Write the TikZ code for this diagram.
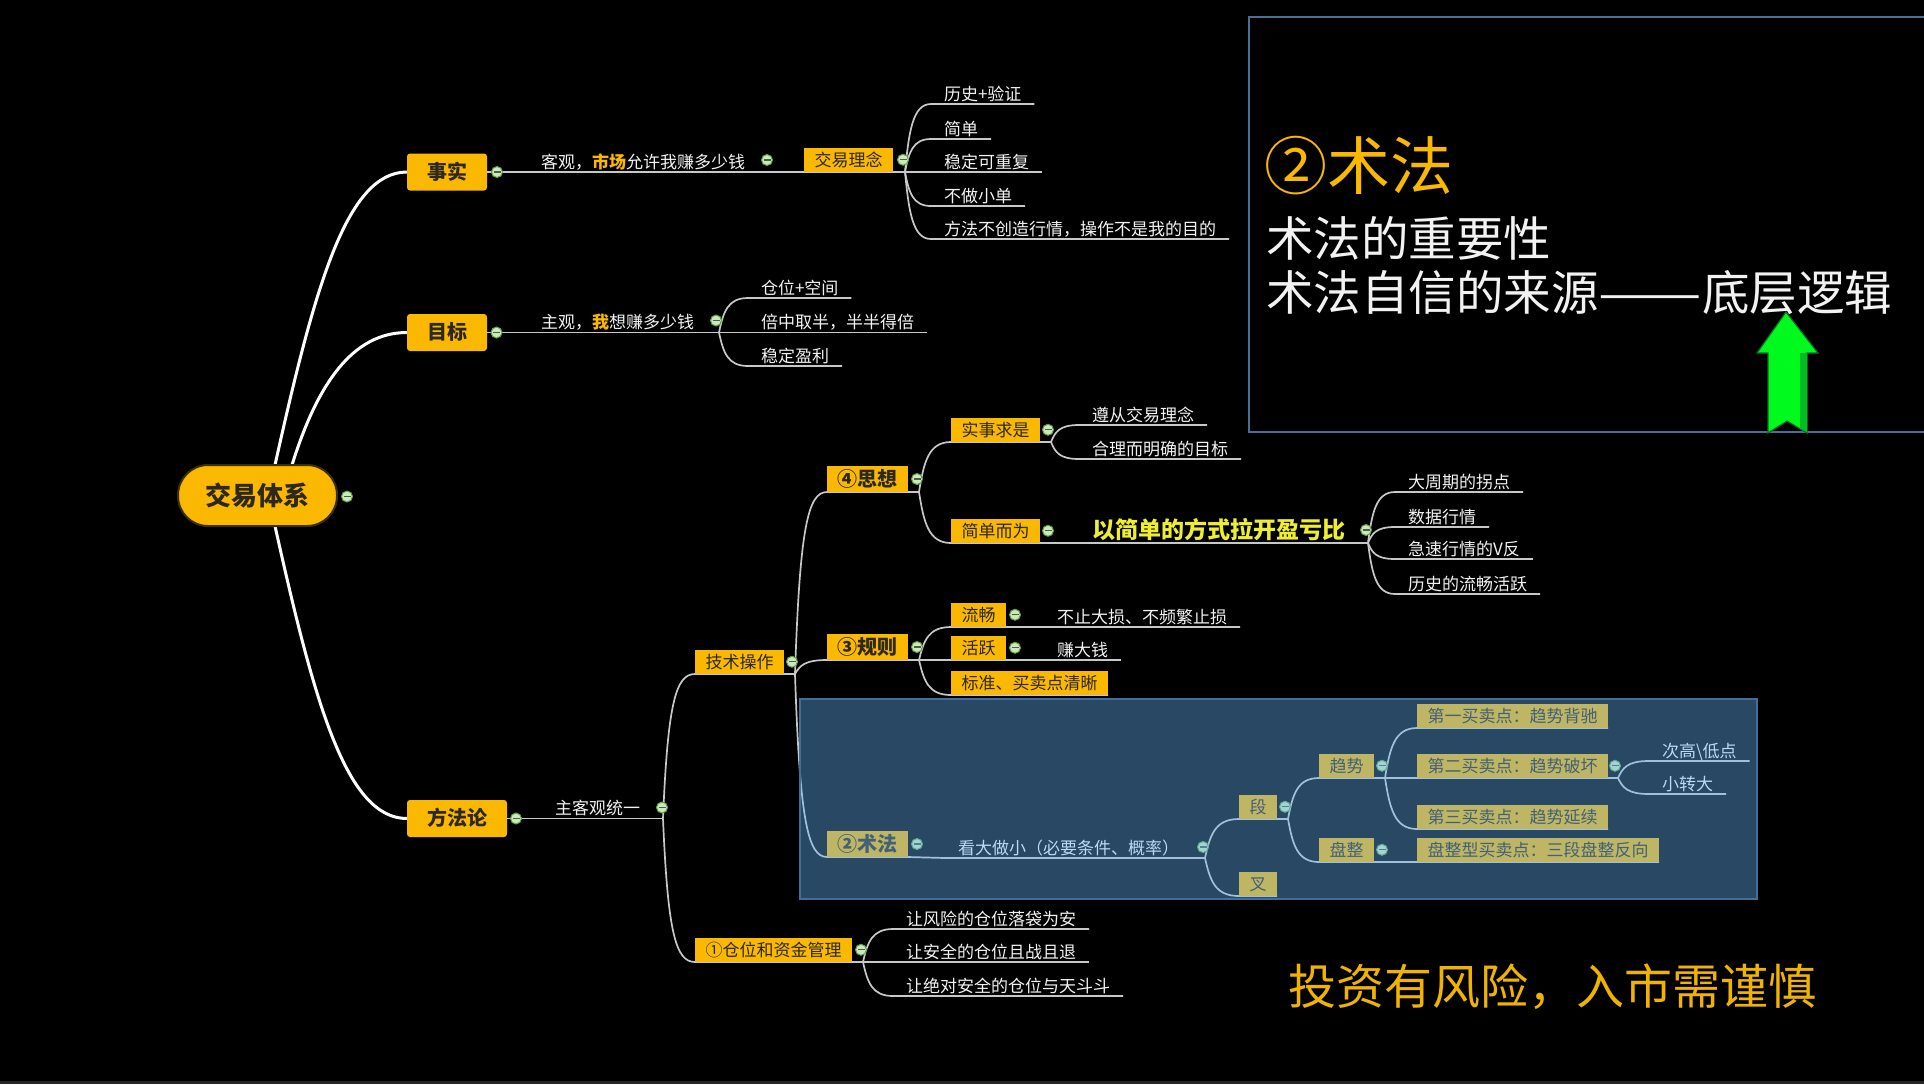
\documentclass[tikz,border=0pt]{standalone}
\usepackage{fontspec}
\usepackage{graphicx}
\setmainfont{Noto Sans CJK SC}
\usetikzlibrary{calc}
\definecolor{gold}{RGB}{250,184,0}
\definecolor{boxtxt}{RGB}{45,40,30}
\definecolor{txtw}{RGB}{242,242,242}
\definecolor{lineg}{RGB}{200,200,200}
\definecolor{yel}{RGB}{238,238,48}
\definecolor{collf}{RGB}{205,232,185}
\definecolor{colld}{RGB}{95,160,70}
\definecolor{collbar}{RGB}{80,90,80}
\definecolor{ovl}{RGB}{100,180,250}
\definecolor{ovlb}{RGB}{65,110,155}
\definecolor{tlb}{RGB}{74,111,148}
\definecolor{arrg}{RGB}{0,250,30}
\definecolor{arrd}{RGB}{10,110,40}
\definecolor{warn}{RGB}{240,180,0}
\definecolor{rootd}{RGB}{60,45,0}
\pgfdeclarelayer{back}\pgfdeclarelayer{bg}\pgfdeclarelayer{fore}
\pgfsetlayers{back,bg,main,fore}
\tikzset{
  every node/.style={outer sep=0pt},
  f17/.style={font=\fontsize{8.5}{10}\selectfont, text height=7.4pt, text depth=1.1pt},
  f20b/.style={font=\fontsize{10}{12}\selectfont\bfseries, text height=8.7pt, text depth=1.3pt},
  box/.style={f17, fill=gold, text=boxtxt, inner xsep=5.25pt, inner ysep=0pt, minimum height=12.25pt, anchor=south west},
  bbox/.style={f20b, fill=gold, text=boxtxt, inner xsep=5.25pt, inner ysep=0pt, minimum height=13pt, anchor=south west},
  l1box/.style={f20b, fill=gold, text=boxtxt, inner xsep=10pt, inner ysep=0pt, minimum height=18.5pt, rounded corners=1.5pt, anchor=west},
  txt/.style={f17, text=txtw, inner xsep=6.5pt, inner ysep=0.8pt, anchor=south west},
  coll/.style={circle, minimum size=5.5pt, inner sep=0pt, fill=collf, draw=colld, line width=0.5pt,
    path picture={\draw[collbar, line width=0.6pt] ($(path picture bounding box.center)+(-3.5,0)$) -- ($(path picture bounding box.center)+(3.5,0)$);}},
  l1/.style={draw=white, line width=1.5pt},
  ln/.style={draw=lineg, line width=0.85pt},
  br/.style args={#1/#2/#3}{to path={let \p1=(\tikztostart), \p2=(\tikztotarget) in
     .. controls ({\x1+#1*(\x2-\x1)},{\y1+#2*(\y2-\y1)}) and ({\x2-#3*(\x2-\x1)},{\y2}) .. (\tikztotarget) \tikztonodes}},
  br/.default=0.15/0.6/0.7,
}
\begin{document}
\begin{tikzpicture}[x=0.5pt,y=-0.5pt]
\useasboundingbox (0,0) rectangle (1924,1084);
\begin{pgfonlayer}{back}
\fill[black] (0,0) rectangle (1924,1084);
\fill[black!85!white] (0,1081) rectangle (1924,1084);
\end{pgfonlayer}

% root and level 1
\node[font=\fontsize{13}{15}\selectfont\bfseries, text=boxtxt, fill=gold, draw=rootd, line width=1pt,
  rounded corners=15pt, minimum width=79.5pt, minimum height=30.5pt, text height=11.4pt, text depth=1.6pt, inner sep=0pt]
  (root) at (257.5,495.5) {交易体系};
\node[l1box] (shishi) at (407,172) {事实};
\node[l1box] (mubiao) at (407,332.5) {目标};
\node[l1box] (ffl) at (407,818.5) {方法论};

% 事实
\node[txt] (keguan) at (528,172) {客观，{\color{gold}\bfseries 市场}允许我赚多少钱};
\node[box] (jyln) at (804,172) {交易理念};
\node[txt] (ls) at (931,104) {历史+验证};
\node[txt] (jdan) at (931,139) {简单};
\node[txt] (wd) at (931,172) {稳定可重复};
\node[txt] (bzxd) at (931,206) {不做小单};
\node[txt] (ffbc) at (931,239) {方法不创造行情，操作不是我的目的};

% 目标
\node[txt] (zhuguan) at (528,332.5) {主观，{\color{gold}\bfseries 我}想赚多少钱};
\node[txt] (cwkj) at (748,298) {仓位+空间};
\node[txt] (bzqb) at (748,332.5) {倍中取半，半半得倍};
\node[txt] (wdyl) at (748,366) {稳定盈利};

% 方法论
\node[txt] (zkg) at (542,818.5) {主客观统一};
\node[box] (jscz) at (695,674) {技术操作};
\node[box] (cwzj) at (695,962) {①仓位和资金管理};
\node[bbox] (sx) at (827,492) {④思想};
\node[bbox] (gz) at (827,660) {③规则};
\node[bbox] (sf) at (827,857) {②术法};
\node[box] (ssqs) at (951,442) {实事求是};
\node[box] (jdew) at (951,543) {简单而为};
\node[txt] (zcjy) at (1079,425) {遵从交易理念};
\node[txt] (hlmq) at (1079,459) {合理而明确的目标};
\node[txt, font=\fontsize{11.5}{13}\selectfont\bfseries, text height=10.1pt, text depth=1.4pt, text=yel] (yjd) at (1079,543) {以简单的方式拉开盈亏比};
\node[txt] (dzq) at (1395,492) {大周期的拐点};
\node[txt] (sjhq) at (1395,527) {数据行情};
\node[txt] (jshq) at (1395,559) {急速行情的V反};
\node[txt] (lsdl) at (1395,594) {历史的流畅活跃};
\node[box] (lc) at (951,627) {流畅};
\node[box] (hy) at (951,660) {活跃};
\node[box] (bzmm) at (951,695) {标准、买卖点清晰};
\node[txt] (bzds) at (1044,627) {不止大损、不频繁止损};
\node[txt] (zdq) at (1044,660) {赚大钱};
\node[txt] (kdzx) at (945,858) {看大做小（必要条件、概率）};
\node[box] (duan) at (1239,819) {段};
\node[box] (cha) at (1239,896) {叉};
\node[box] (qs) at (1319,778) {趋势};
\node[box] (pz) at (1319,862) {盘整};
\node[box] (d1) at (1417,728) {第一买卖点：趋势背驰};
\node[box] (d2) at (1417,778) {第二买卖点：趋势破坏};
\node[box] (d3) at (1417,829) {第三买卖点：趋势延续};
\node[box] (pzx) at (1417,862) {盘整型买卖点：三段盘整反向};
\node[txt] (cgd) at (1649,761) {次高\textbackslash 低点};
\node[txt] (xzd) at (1649,794) {小转大};
\node[txt] (fx) at (893,929) {让风险的仓位落袋为安};
\node[txt] (aq) at (893,962) {让安全的仓位且战且退};
\node[txt] (jdaq) at (893,996) {让绝对安全的仓位与天斗斗};

% branch points
\coordinate (b1) at ($(jyln.south east)+(12,0)$);
\coordinate (b2) at ($(zhuguan.south east)+(12,0)$);
\coordinate (b3) at ($(zkg.south east)+(10,0)$);
\coordinate (b4) at ($(jscz.south east)+(11,0)$);
\coordinate (b5) at ($(cwzj.south east)+(11,0)$);
\coordinate (b6) at ($(sx.south east)+(11,0)$);
\coordinate (b7) at ($(gz.south east)+(11,0)$);
\coordinate (b8) at ($(ssqs.south east)+(11,0)$);
\coordinate (b9) at ($(yjd.south east)+(10,0)$);
\coordinate (b10) at ($(kdzx.south east)+(13,0)$);
\coordinate (b11) at ($(duan.south east)+(11,0)$);
\coordinate (b12) at ($(qs.south east)+(11,0)$);
\coordinate (b13) at ($(d2.south east)+(10,0)$);

% collapse markers
\node[coll] (k0) at ($(root.east)+(10,1)$) {};
\node[coll] (k1) at ($(shishi.east)+(10,0)$) {};
\node[coll] (k2) at ($(mubiao.east)+(9.5,0)$) {};
\node[coll] (k3) at ($(ffl.east)+(9,0)$) {};
\node[coll] (k4) at ($(keguan.south east)+(9,-12)$) {};
\node[coll] (k5) at ($(jyln.east)+(10,0)$) {};
\node[coll] (k6) at ($(zhuguan.south east)+(9,-12)$) {};
\node[coll] (k7) at ($(zkg.south east)+(9,-11)$) {};
\node[coll] (k8) at ($(jscz.east)+(8,0)$) {};
\node[coll] (k9) at ($(cwzj.east)+(9,0)$) {};
\node[coll] (k10) at ($(sx.east)+(9,0)$) {};
\node[coll] (k11) at ($(gz.east)+(9,0)$) {};
\node[coll] (k12) at ($(sf.east)+(9,0)$) {};
\node[coll] (k13) at ($(ssqs.east)+(8,0)$) {};
\node[coll] (k14) at ($(jdew.east)+(8,0)$) {};
\node[coll] (k15) at ($(yjd.south east)+(8,-13)$) {};
\node[coll] (k16) at ($(lc.east)+(9,0)$) {};
\node[coll] (k17) at ($(hy.east)+(9,0)$) {};
\node[coll] (k18) at ($(kdzx.south east)+(11,-11)$) {};
\node[coll] (k19) at ($(duan.east)+(8,0)$) {};
\node[coll] (k20) at ($(qs.east)+(8,0)$) {};
\node[coll] (k21) at ($(pz.east)+(8,0)$) {};
\node[coll] (k22) at ($(d2.east)+(7,0)$) {};

\begin{pgfonlayer}{bg}
% level-1 connectors
\draw[l1] ($(root.north)+(17.5,0)$) .. controls +(40,-180) and +(-60,0) .. (shishi.west);
\draw[l1] ($(root.north)+(34.5,0)$) .. controls +(25,-80) and +(-55,0) .. (mubiao.west);
\draw[l1] ($(root.south)+(17.5,0)$) .. controls +(40,180) and +(-60,0) .. (ffl.west);
% 事实
\draw[ln] (shishi.east) -- (keguan.south west) -- (keguan.south east) -- (jyln.south west);
\draw[ln] (jyln.south west) -- (jyln.south east) -- (b1);
\foreach \kk in {ls,jdan,wd,bzxd,ffbc} {\draw[ln] (b1) to[br] (\kk.south west) -- (\kk.south east);}
% 目标
\draw[ln] (mubiao.east) -- (zhuguan.south west) -- (zhuguan.south east) -- (b2);
\foreach \kk in {cwkj,bzqb,wdyl} {\draw[ln] (b2) to[br] (\kk.south west) -- (\kk.south east);}
% 方法论
\draw[ln] (ffl.east) -- (zkg.south west) -- (zkg.south east) -- (b3);
\draw[ln] (b3) to[br=0.15/0.8/0.6] (jscz.south west) -- (jscz.south east) -- (b4);
\draw[ln] (b3) to[br=0.15/0.8/0.6] (cwzj.south west) -- (cwzj.south east) -- (b5);
\draw[ln] (b4) to[br=0.15/0.8/0.6] (sx.south west) -- (sx.south east) -- (b6);
\draw[ln] (b4) to[br] (gz.south west) -- (gz.south east) -- (b7);
\draw[ln] (b4) to[br=0.15/0.8/0.6] (sf.south west) -- (sf.south east) -- (kdzx.south west) -- (kdzx.south east) -- (b10);
\draw[ln] (b6) to[br] (ssqs.south west) -- (ssqs.south east) -- (b8);
\draw[ln] (b6) to[br] (jdew.south west) -- (jdew.south east) -- (yjd.south west) -- (yjd.south east) -- (b9);
\foreach \kk in {zcjy,hlmq} {\draw[ln] (b8) to[br] (\kk.south west) -- (\kk.south east);}
\foreach \kk in {dzq,sjhq,jshq,lsdl} {\draw[ln] (b9) to[br] (\kk.south west) -- (\kk.south east);}
\draw[ln] (b7) to[br] (lc.south west) -- (lc.south east) -- (bzds.south west) -- (bzds.south east);
\draw[ln] (b7) to[br] (hy.south west) -- (hy.south east) -- (zdq.south west) -- (zdq.south east);
\draw[ln] (b7) to[br] (bzmm.south west) -- (bzmm.south east);
\draw[ln] (b10) to[br] (duan.south west) -- (duan.south east) -- (b11);
\draw[ln] (b10) to[br] (cha.south west) -- (cha.south east);
\draw[ln] (b11) to[br] (qs.south west) -- (qs.south east) -- (b12);
\draw[ln] (b11) to[br] (pz.south west) -- (pz.south east) -- (pzx.south west) -- (pzx.south east);
\draw[ln] (b12) to[br] (d1.south west) -- (d1.south east);
\draw[ln] (b12) -- (d2.south west) -- (d2.south east) -- (b13);
\draw[ln] (b12) to[br] (d3.south west) -- (d3.south east);
\foreach \kk in {cgd,xzd} {\draw[ln] (b13) to[br] (\kk.south west) -- (\kk.south east);}
\foreach \kk in {fx,aq,jdaq} {\draw[ln] (b5) to[br] (\kk.south west) -- (\kk.south east);}
\end{pgfonlayer}

\begin{pgfonlayer}{fore}
% highlight of 术法 branch
\fill[ovl, fill opacity=0.4] (800,699) rectangle (1757,899);
\draw[ovlb, line width=1.2pt] (800,699) rectangle (1757,899);
% top-right panel
\draw[fill=black, draw=tlb, line width=1pt] (1249,17) rectangle (1930,432);
\node[anchor=west, inner sep=0pt, font=\fontsize{31.5}{34}\selectfont, text=gold, text height=27.7pt, text depth=3.8pt] (t1) at (1264,166) {②术法};
\node[anchor=west, inner sep=0pt, font=\fontsize{23.75}{26}\selectfont, text=txtw, text height=20.9pt, text depth=2.85pt] (t2) at (1266,238) {术法的重要性};
\node[anchor=west, inner sep=0pt, font=\fontsize{23.75}{26}\selectfont, text=txtw, text height=20.9pt, text depth=2.85pt] (t3) at (1266,292) {术法自信的来源\scalebox{1.3}[1]{——}底层逻辑};
\filldraw[fill=arrg, draw=arrd, line width=0.6pt] (1786,312) -- (1818,353) -- (1807,353) -- (1807,433) -- (1787,421) -- (1768,433) -- (1768,353) -- (1757,353) -- cycle;
\fill[arrd!45!arrg] (1800,353) -- (1807,353) -- (1807,432) -- (1800,428) -- cycle;
% warning
\node[anchor=west, inner sep=0pt, font=\fontsize{24}{26}\selectfont, text=warn, text height=21.1pt, text depth=2.9pt] (warn) at (1288,986) {投资有风险，入市需谨慎};
\end{pgfonlayer}
\end{tikzpicture}
\end{document}
